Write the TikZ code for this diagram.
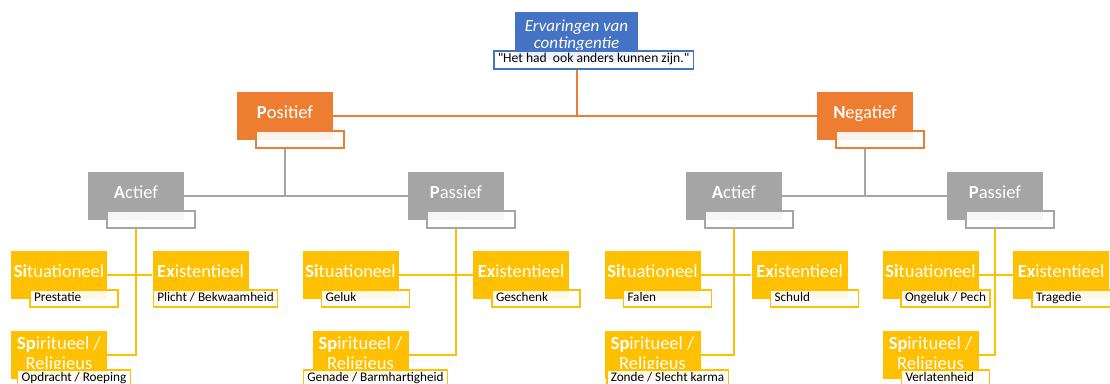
\documentclass[tikz,border=0pt]{standalone}
\usepackage{fontspec}
\setmainfont{Carlito}
\definecolor{cblue}{HTML}{4472C4}
\definecolor{corange}{HTML}{ED7D31}
\definecolor{cgrey}{HTML}{A5A5A5}
\definecolor{cyellow}{HTML}{FFC000}
% label text: at least 80pt wide, left aligned
\newcommand{\tagtext}[1]{\setbox0=\hbox{#1}\ifdim\wd0<80pt\makebox[80pt][l]{#1}\else\box0\fi}
\tikzset{%
  box/.style    = {shape=rectangle, fill=#1, text=white, inner sep=0pt,%
                   minimum width=96pt, minimum height=48pt,%
                   font=\fontsize{18.5}{20}\selectfont},%
  onebox/.style = {box=#1, text height=12pt, text depth=7pt},%
  twobox/.style = {box=#1, align=center},%
  tag/.style    = {shape=rectangle, draw=#1, line width=1.5pt,%
                   fill=white, fill opacity=0.9, text opacity=1, text=black,%
                   inner xsep=4pt, inner ysep=0pt, text height=9pt, text depth=3.5pt,%
                   minimum height=17pt, anchor=north, xshift=15pt, yshift=10pt,%
                   font=\fontsize{13.2}{15}\selectfont},%
  link/.style   = {draw=#1, line width=1.5pt}%
}
\begin{document}
\begin{tikzpicture}[x=1pt,y=-1pt]
	\useasboundingbox (0,0) rectangle (1110,383);
	\clip (0,0) rectangle (1110,383);
	% root
	\node [twobox=cblue, minimum width=123pt, font=\itshape\fontsize{17}{17}\selectfont]
		(top) at (576.5,36) {Ervaringen van\\contingentie};
	\node [tag=cblue, xshift=2pt, minimum height=18pt, font=\fontsize{13.6}{15}\selectfont]
		(top-tag) at (top.south)
		{\tagtext{\textquotedbl Het had\ \ ook anders kunnen zijn.\textquotedbl}};
	% level 1
	\node [onebox=corange] (pos) at (285,116) {\textbf{P}ositief};
	\node [tag=corange] (pos-tag) at (pos.south) {\tagtext{}};
	\node [onebox=corange] (neg) at (865,116) {\textbf{N}egatief};
	\node [tag=corange] (neg-tag) at (neg.south) {\tagtext{}};
	% level 2
	\node [onebox=cgrey] (actL) at (136,196) {\textbf{A}ctief};
	\node [tag=cgrey] (actL-tag) at (actL.south) {\tagtext{}};
	\node [onebox=cgrey] (pasL) at (456,196) {\textbf{P}assief};
	\node [tag=cgrey] (pasL-tag) at (pasL.south) {\tagtext{}};
	\node [onebox=cgrey] (actR) at (734,196) {\textbf{A}ctief};
	\node [tag=cgrey] (actR-tag) at (actR.south) {\tagtext{}};
	\node [onebox=cgrey] (pasR) at (995,196) {\textbf{P}assief};
	\node [tag=cgrey] (pasR-tag) at (pasR.south) {\tagtext{}};
	% level 3, positief / actief
	\node [onebox=cyellow] (actL-sit) at (59,275) {\textbf{Si}tuationeel};
	\node [tag=cyellow] at (actL-sit.south) {\tagtext{Prestatie}};
	\node [onebox=cyellow] (actL-exi) at (200.5,275) {\textbf{Ex}istentieel};
	\node [tag=cyellow] at (actL-exi.south) {\tagtext{Plicht / Bekwaamheid}};
	\node [twobox=cyellow] (actL-spi) at (59,355) {\textbf{Sp}iritueel /\\Religieus};
	\node [tag=cyellow] at (actL-spi.south) {\tagtext{Opdracht / Roeping}};
	% positief / passief
	\node [onebox=cyellow] (pasL-sit) at (350.5,275) {\textbf{Si}tuationeel};
	\node [tag=cyellow] at (pasL-sit.south) {\tagtext{Geluk}};
	\node [onebox=cyellow] (pasL-exi) at (521,275) {\textbf{Ex}istentieel};
	\node [tag=cyellow] at (pasL-exi.south) {\tagtext{Geschenk}};
	\node [twobox=cyellow] (pasL-spi) at (360.5,355) {\textbf{Sp}iritueel /\\Religieus};
	\node [tag=cyellow] at (pasL-spi.south) {\tagtext{Genade / Barmhartigheid}};
	% negatief / actief
	\node [onebox=cyellow] (actR-sit) at (652.5,275) {\textbf{Si}tuationeel};
	\node [tag=cyellow] at (actR-sit.south) {\tagtext{Falen}};
	\node [onebox=cyellow] (actR-exi) at (799.5,275) {\textbf{Ex}istentieel};
	\node [tag=cyellow] at (actR-exi.south) {\tagtext{Schuld}};
	\node [twobox=cyellow] (actR-spi) at (652.5,355) {\textbf{Sp}iritueel /\\Religieus};
	\node [tag=cyellow] at (actR-spi.south) {\tagtext{Zonde / Slecht karma}};
	% negatief / passief
	\node [onebox=cyellow] (pasR-sit) at (930.5,275) {\textbf{Si}tuationeel};
	\node [tag=cyellow] at (pasR-sit.south) {\tagtext{Ongeluk / Pech}};
	\node [onebox=cyellow] (pasR-exi) at (1061,275) {\textbf{Ex}istentieel};
	\node [tag=cyellow] at (pasR-exi.south) {\tagtext{Tragedie}};
	\node [twobox=cyellow] (pasR-spi) at (930.5,355) {\textbf{Sp}iritueel /\\Religieus};
	\node [tag=cyellow] at (pasR-spi.south) {\tagtext{Verlatenheid}};
	% connectors
	\draw [link=corange, line width=2pt] (top.south |- top-tag.south) |- (pos.east);
	\draw [link=corange, line width=2pt] (top.south |- top-tag.south) |- (neg.west);
	\draw [link=cgrey, line width=2pt] (pos.south |- pos-tag.south) |- (actL.east);
	\draw [link=cgrey, line width=2pt] (pos.south |- pos-tag.south) |- (pasL.west);
	\draw [link=cgrey, line width=2pt] (neg.south |- neg-tag.south) |- (actR.east);
	\draw [link=cgrey, line width=2pt] (neg.south |- neg-tag.south) |- (pasR.west);
	\foreach \p in {actL,pasL,actR,pasR} {
		\draw [link=cyellow] (\p.south |- \p-tag.south) |- (\p-sit.east);
		\draw [link=cyellow] (\p.south |- \p-tag.south) |- (\p-exi.west);
		\draw [link=cyellow] (\p.south |- \p-tag.south) |- (\p-spi.east);
	}
\end{tikzpicture}
\end{document}
